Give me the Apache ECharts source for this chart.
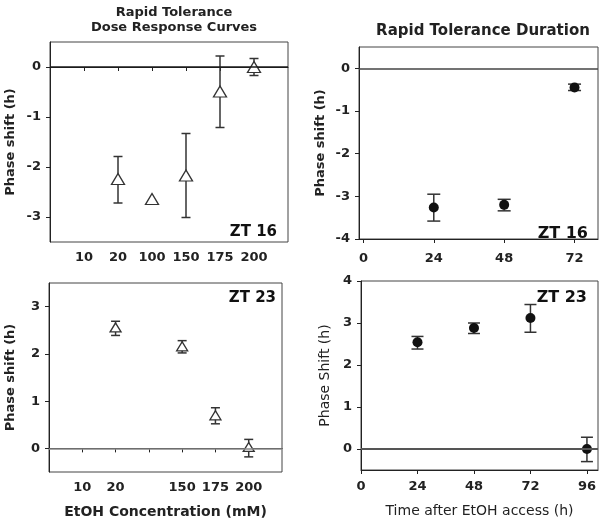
<!DOCTYPE html>
<html>
<head>
<meta charset="utf-8">
<script src="https://cdn.jsdelivr.net/npm/echarts@6/dist/echarts.min.js"></script>
<style>html,body{margin:0;padding:0;background:#fff}#c{width:600px;height:525px}</style>
</head>
<body>
<div id="c"></div>
<script>
// ---- Data ----
var zt16DoseCategories = ['', '10', '20', '100', '150', '175', '200', ''];
var zt23DoseCategories = ['', '10', '20', '', '150', '175', '200', ''];

var zt16Doses = ['20', '100', '150', '175', '200'];
var zt16DoseMean = [-2.24, -2.64, -2.17, -0.49, 0.0];
var zt16DoseLow = [-2.72, null, -3.01, -1.21, -0.17];
var zt16DoseHigh = [-1.79, null, -1.33, 0.22, 0.17];

var zt23Doses = ['20', '150', '175', '200'];
var zt23DoseMean = [2.56, 2.16, 0.70, 0.03];
var zt23DoseLow = [2.39, 2.02, 0.52, -0.18];
var zt23DoseHigh = [2.69, 2.28, 0.86, 0.19];

var zt16Times = [24, 48, 72];
var zt16TimeMean = [-3.26, -3.20, -0.45];
var zt16TimeLow = [-3.58, -3.34, -0.52];
var zt16TimeHigh = [-2.95, -3.07, -0.37];

var zt23Times = [24, 48, 72, 96];
var zt23TimeMean = [2.54, 2.88, 3.12, 0.0];
var zt23TimeLow = [2.38, 2.75, 2.78, -0.30];
var zt23TimeHigh = [2.68, 3.00, 3.44, 0.28];

var yTicksTL = [-3, -2, -1, 0];
var yTicksTR = [-4, -3, -2, -1, 0];
var yTicksBL = [0, 1, 2, 3];
var yTicksBR = [0, 1, 2, 3, 4];
var xTicksTime16 = [0, 24, 48, 72];
var xTicksTime23 = [0, 24, 48, 72, 96];

// ---- Helpers ----
var FONT = 'DejaVu Sans';
function zip(xs, ys) { return xs.map(function (x, i) { return [x, ys[i]]; }); }
function zip3(xs, a, b) {
  var out = [];
  xs.forEach(function (x, i) { if (a[i] !== null && b[i] !== null) out.push([x, a[i], b[i]]); });
  return out;
}
function errRender(capW, color, lw) {
  return function (params, api) {
    var x = api.value(0), lo = api.value(1), hi = api.value(2);
    var pLo = api.coord([x, lo]), pHi = api.coord([x, hi]);
    var h = capW / 2;
    var st = { stroke: color, lineWidth: lw };
    return {
      type: 'group', children: [
        { type: 'line', shape: { x1: pLo[0], y1: pLo[1], x2: pHi[0], y2: pHi[1] }, style: st },
        { type: 'line', shape: { x1: pLo[0] - h, y1: pLo[1], x2: pLo[0] + h, y2: pLo[1] }, style: st },
        { type: 'line', shape: { x1: pHi[0] - h, y1: pHi[1], x2: pHi[0] + h, y2: pHi[1] }, style: st }
      ]
    };
  };
}
var tickLabel = { fontFamily: FONT, fontWeight: 'bold', fontSize: 13, color: '#222' };
function catX(idx, cats, name, nameBold) {
  return {
    type: 'category', gridIndex: idx, data: cats, boundaryGap: false,
    axisLine: { lineStyle: { color: '#222', width: 1 } },
    axisTick: { show: true, length: 4, inside: false, interval: function (i) { return i < cats.length - 1; }, lineStyle: { color: '#222' } },
    axisLabel: Object.assign({ interval: 0, margin: 9 }, tickLabel),
    splitLine: { show: false },
    name: name || '', nameLocation: 'middle', nameGap: 33, nameMoveOverlap: false,
    nameTextStyle: { fontFamily: FONT, fontWeight: nameBold ? 'bold' : 'normal', fontSize: 14, color: '#222' }
  };
}
function valX(idx, min, max, ticks, name, margin) {
  return {
    type: 'value', gridIndex: idx, min: min, max: max,
    axisLine: { show: true, onZero: false, lineStyle: { color: '#222', width: 1 } },
    axisTick: { show: true, length: 4, customValues: ticks, lineStyle: { color: '#222' } },
    axisLabel: Object.assign({ customValues: ticks, margin: margin }, tickLabel),
    splitLine: { show: false },
    name: name || '', nameLocation: 'middle', nameGap: 34, nameMoveOverlap: false,
    nameTextStyle: { fontFamily: FONT, fontWeight: 'normal', fontSize: 14, color: '#222' }
  };
}
function valY(idx, min, max, ticks, name, gap, bold) {
  return {
    type: 'value', gridIndex: idx, min: min, max: max,
    axisLine: { show: true, onZero: false, lineStyle: { color: '#222', width: 1 } },
    axisTick: { show: true, length: 4, customValues: ticks, lineStyle: { color: '#222' } },
    axisLabel: Object.assign({ customValues: ticks, margin: 9 }, tickLabel),
    splitLine: { show: false },
    name: name, nameLocation: 'middle', nameGap: gap, nameRotate: 90, nameMoveOverlap: false,
    nameTextStyle: { fontFamily: FONT, fontWeight: bold ? 'bold' : 'normal', fontSize: bold ? 13 : 14, color: '#222' }
  };
}
function zeroLine(color, width) {
  return { silent: true, symbol: 'none', label: { show: false }, lineStyle: { color: color, width: width, type: 'solid' }, data: [{ yAxis: 0 }] };
}

var gridBase = { show: true, borderColor: '#444', borderWidth: 1, backgroundColor: 'transparent', outerBoundsMode: 'none', containLabel: false };

var option = {
  animation: false,
  backgroundColor: '#fff',
  title: [
    { text: 'Rapid Tolerance\nDose Response Curves', left: 169, top: 0, textAlign: 'center',
      textStyle: { fontFamily: FONT, fontWeight: 'bold', fontSize: 13, lineHeight: 15, color: '#222' } },
    { text: 'Rapid Tolerance Duration', left: 478, top: 19, textAlign: 'center',
      textStyle: { fontFamily: FONT, fontWeight: 'bold', fontSize: 15, lineHeight: 15, color: '#222' } },
    { text: 'ZT 16', right: 318, top: 220, textStyle: { fontFamily: FONT, fontWeight: 'bold', fontSize: 15, lineHeight: 15, color: '#111' } },
    { text: 'ZT 16', right: 7, top: 221, textStyle: { fontFamily: FONT, fontWeight: 'bold', fontSize: 16, lineHeight: 16, color: '#111' } },
    { text: 'ZT 23', right: 319, top: 286, textStyle: { fontFamily: FONT, fontWeight: 'bold', fontSize: 15, lineHeight: 15, color: '#111' } },
    { text: 'ZT 23', right: 8, top: 285, textStyle: { fontFamily: FONT, fontWeight: 'bold', fontSize: 16, lineHeight: 16, color: '#111' } }
  ],
  grid: [
    Object.assign({ left: 50, top: 42, width: 238, height: 200 }, gridBase),
    Object.assign({ left: 359, top: 47, width: 239, height: 192 }, gridBase),
    Object.assign({ left: 49, top: 283, width: 233, height: 189 }, gridBase),
    Object.assign({ left: 361, top: 281, width: 237, height: 189 }, gridBase)
  ],
  xAxis: [
    catX(0, zt16DoseCategories, '', true),
    valX(1, -1.5, 80, xTicksTime16, '', 13),
    catX(2, zt23DoseCategories, 'EtOH Concentration (mM)', true),
    valX(3, 0, 100.7, xTicksTime23, 'Time after EtOH access (h)', 10)
  ],
  yAxis: [
    valY(0, -3.5, 0.5, yTicksTL, 'Phase shift (h)', 33, true),
    valY(1, -4, 0.5, yTicksTR, 'Phase shift (h)', 32, true),
    valY(2, -0.5, 3.5, yTicksBL, 'Phase shift (h)', 32, true),
    valY(3, -0.5, 4, yTicksBR, 'Phase Shift (h)', 29, false)
  ],
  series: [
    // Top-left
    { type: 'custom', xAxisIndex: 0, yAxisIndex: 0, z: 2, renderItem: errRender(9, '#333', 1.5),
      encode: { x: 0, y: [1, 2] }, data: zip3(zt16Doses, zt16DoseLow, zt16DoseHigh) },
    { type: 'scatter', xAxisIndex: 0, yAxisIndex: 0, z: 3, symbol: 'triangle', symbolSize: [13, 11],
      itemStyle: { color: '#fff', borderColor: '#333', borderWidth: 1.3, opacity: 1 },
      data: zip(zt16Doses, zt16DoseMean), markLine: zeroLine('#1a1a1a', 1.5) },
    // Top-right
    { type: 'custom', xAxisIndex: 1, yAxisIndex: 1, z: 2, renderItem: errRender(13, '#333', 1.5),
      encode: { x: 0, y: [1, 2] }, data: zip3(zt16Times, zt16TimeLow, zt16TimeHigh) },
    { type: 'scatter', xAxisIndex: 1, yAxisIndex: 1, z: 3, symbol: 'circle', symbolSize: 10,
      itemStyle: { color: '#111', opacity: 1 },
      data: zip(zt16Times, zt16TimeMean), markLine: zeroLine('#444', 1.5) },
    // Bottom-left
    { type: 'custom', xAxisIndex: 2, yAxisIndex: 2, z: 2, renderItem: errRender(9, '#333', 1.5),
      encode: { x: 0, y: [1, 2] }, data: zip3(zt23Doses, zt23DoseLow, zt23DoseHigh) },
    { type: 'scatter', xAxisIndex: 2, yAxisIndex: 2, z: 3, symbol: 'triangle', symbolSize: [11, 9],
      itemStyle: { color: '#fff', borderColor: '#333', borderWidth: 1.3, opacity: 1 },
      data: zip(zt23Doses, zt23DoseMean), markLine: zeroLine('#888', 1.5) },
    // Bottom-right
    { type: 'custom', xAxisIndex: 3, yAxisIndex: 3, z: 2, renderItem: errRender(12, '#333', 1.5),
      encode: { x: 0, y: [1, 2] }, data: zip3(zt23Times, zt23TimeLow, zt23TimeHigh) },
    { type: 'scatter', xAxisIndex: 3, yAxisIndex: 3, z: 3, symbol: 'circle', symbolSize: 10,
      itemStyle: { color: '#111', opacity: 1 },
      data: zip(zt23Times, zt23TimeMean), markLine: zeroLine('#555', 2) }
  ]
};
var chart = echarts.init(document.getElementById('c'), null, { renderer: 'canvas' });
chart.setOption(option);
</script>
</body>
</html>
